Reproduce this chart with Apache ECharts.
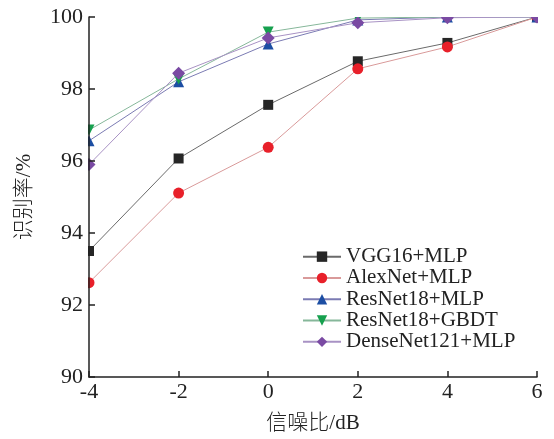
<!DOCTYPE html>
<html><head><meta charset="utf-8">
<script src="https://cdn.jsdelivr.net/npm/echarts@6/dist/echarts.min.js"></script>
<style>html,body{margin:0;padding:0;background:#fff}#c{width:554px;height:439px}</style>
</head><body><div id="c"></div>
<script>
const snr = [-4, -2, 0, 2, 4, 6];
const seriesNames = ['VGG16+MLP', 'AlexNet+MLP', 'ResNet18+MLP', 'ResNet18+GBDT', 'DenseNet121+MLP'];
const vgg16 = [93.5, 96.07, 97.56, 98.77, 99.28, 100];
const alexnet = [92.62, 95.11, 96.38, 98.56, 99.17, 100];
const resnetMlp = [96.56, 98.2, 99.25, 99.92, 100, 100];
const resnetGbdt = [96.86, 98.28, 99.58, 99.97, 100, 100];
const densenet = [95.9, 98.44, 99.42, 99.84, 99.98, 100];
const yTicks = [90, 92, 94, 96, 98, 100];

const values = [vgg16, alexnet, resnetMlp, resnetGbdt, densenet];
const markerColors = ['#262626', '#e8202a', '#1c4ea3', '#16a04e', '#7a4aa3'];
const lineColors = ['#6a6a6a', '#d99a9a', '#7b7bb3', '#86b79a', '#a892c4'];
const symbols = ['rect', 'circle', 'triangle', 'path://M0,0 L10,0 L5,10 Z', 'diamond'];
const sizes = [10, 11, 11, 11, 13];

const serif = '"Liberation Serif","Times New Roman",serif';
const nameFont = '"Liberation Serif","Noto Sans CJK SC",serif';
const chart = echarts.init(document.getElementById('c'), null, {renderer: 'canvas'});
chart.setOption({
  animation: false,
  grid: {left: 89, right: 17, top: 17, bottom: 62},
  legend: {
    orient: 'vertical', left: 297, top: 241, itemGap: 0, itemWidth: 38, itemHeight: 13,
    textStyle: {fontFamily: serif, fontSize: 21, lineHeight: 21.3, color: '#222'},
    data: seriesNames
  },
  xAxis: {
    type: 'value', min: -4, max: 6, interval: 2, z: 10,
    name: '信噪比/dB', nameLocation: 'middle', nameGap: 36,
    nameTextStyle: {fontFamily: nameFont, fontSize: 21, fontWeight: 300, color: '#222'},
    axisLine: {onZero: false, lineStyle: {color: '#222', width: 1.5}},
    axisTick: {inside: true, length: 6, lineStyle: {color: '#222', width: 1.5}},
    axisLabel: {fontFamily: serif, fontSize: 22, color: '#222', margin: 4},
    splitLine: {show: false}
  },
  yAxis: {
    type: 'value', min: yTicks[0], max: yTicks[yTicks.length - 1], interval: 2, z: 10,
    name: '识别率/%', nameLocation: 'middle', nameGap: 54, nameRotate: 90,
    nameTextStyle: {fontFamily: nameFont, fontSize: 21, fontWeight: 300, color: '#222'},
    axisLine: {onZero: false, lineStyle: {color: '#222', width: 1.5}},
    axisTick: {inside: true, length: 6, lineStyle: {color: '#222', width: 1.5}},
    axisLabel: {fontFamily: serif, fontSize: 22, color: '#222', margin: 6},
    splitLine: {show: false}
  },
  graphic: [
    {type: 'rect', z: 5, shape: {x: 0, y: 0, width: 88, height: 439}, style: {fill: '#fff'}},
    {type: 'rect', z: 5, shape: {x: 0, y: 0, width: 554, height: 17}, style: {fill: '#fff'}},
    {type: 'rect', z: 5, shape: {x: 538, y: 0, width: 16, height: 439}, style: {fill: '#fff'}}
  ],
  series: values.map((v, i) => ({
    name: seriesNames[i], type: 'line', z: 2,
    data: snr.map((x, j) => [x, v[j]]),
    symbol: symbols[i], symbolSize: sizes[i], showSymbol: true, clip: false,
    lineStyle: {color: lineColors[i], width: 1},
    itemStyle: {color: markerColors[i]}
  }))
});
</script></body></html>
